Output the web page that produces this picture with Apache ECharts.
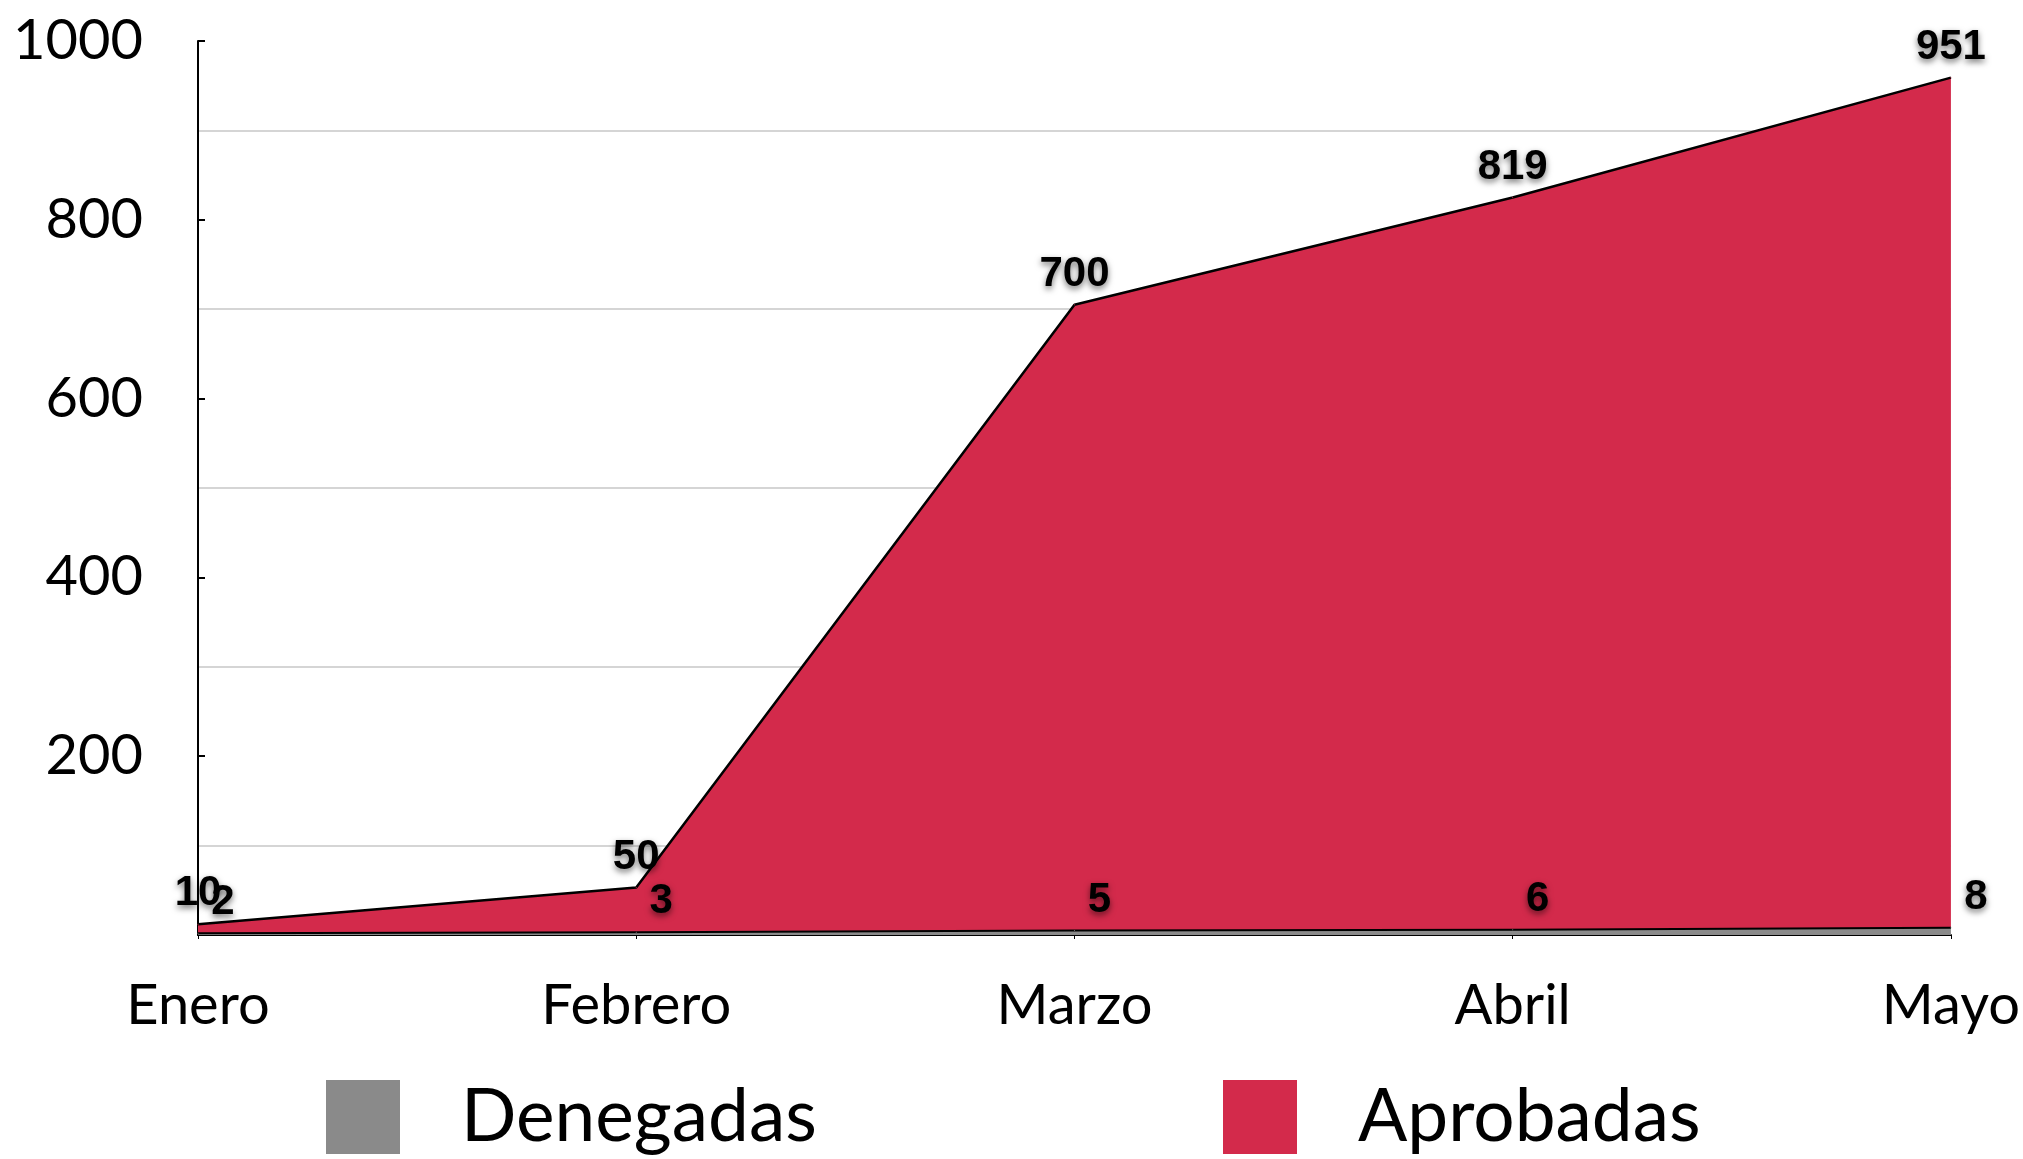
<!DOCTYPE html>
<html>
<head>
<meta charset="utf-8">
<script src="https://cdn.jsdelivr.net/npm/echarts@6/dist/echarts.min.js"></script>
<style>html,body{margin:0;padding:0;background:#fff;}#c{width:2023px;height:1159px;}</style>
</head>
<body>
<div id="c"></div>
<script>
const categories = ['Enero', 'Febrero', 'Marzo', 'Abril', 'Mayo'];
const denegadas = [2, 3, 5, 6, 8];
const aprobadas = [10, 50, 700, 819, 951];
const seriesNames = ['Denegadas', 'Aprobadas'];

const chart = echarts.init(document.getElementById('c'));
const labelFont = {
  show: true, position: 'top', distance: 9,
  fontFamily: 'Liberation Sans, Arial, sans-serif', fontWeight: 'bold', fontSize: 42,
  color: '#000', textShadowColor: 'rgba(0,0,0,0.55)', textShadowBlur: 6, textShadowOffsetY: 3
};
chart.setOption({
  animation: false,
  backgroundColor: '#fff',
  grid: { left: 198, right: 72, top: 41, bottom: 224 },
  legend: [
    { data: [seriesNames[0]], left: 321, top: 1075, itemWidth: 74, itemHeight: 74, icon: 'rect',
      textStyle: { fontFamily: 'Lato', fontSize: 73, color: '#000', padding: [0, 0, 0, 56] } },
    { data: [seriesNames[1]], left: 1218, top: 1075, itemWidth: 74, itemHeight: 74, icon: 'rect',
      textStyle: { fontFamily: 'Lato', fontSize: 73, color: '#000', padding: [0, 0, 0, 56] } }
  ],
  xAxis: {
    type: 'category', data: categories, boundaryGap: false,
    axisLine: { lineStyle: { color: '#000', width: 2 } },
    axisTick: { show: true, length: 4, lineStyle: { color: '#000' } },
    axisLabel: { fontFamily: 'Lato', fontSize: 56, color: '#000', margin: 43 }
  },
  yAxis: {
    type: 'value', min: 0, max: 1000, interval: 200,
    axisLine: { show: true, lineStyle: { color: '#000', width: 2 } },
    axisTick: { show: true, inside: true, length: 7, lineStyle: { color: '#000', width: 2 } },
    splitLine: { show: false },
    minorTick: { show: false, splitNumber: 2 },
    minorSplitLine: { show: true, lineStyle: { color: '#c8c8c8', width: 1.5 } },
    axisLabel: { fontFamily: 'Lato', fontSize: 56, color: '#000', margin: 55,
      formatter: function (v) { return v === 0 ? '' : String(v); } }
  },
  series: [
    {
      name: seriesNames[0], type: 'line', stack: 'total', data: denegadas,
      symbol: 'circle', symbolSize: 1,
      itemStyle: { color: '#8a8a8a' },
      lineStyle: { color: '#000', width: 2 },
      areaStyle: { color: '#8a8a8a', opacity: 1 },
      label: Object.assign({}, labelFont, { offset: [25, 0] }),
      z: 3
    },
    {
      name: seriesNames[1], type: 'line', stack: 'total', data: aprobadas,
      symbol: 'circle', symbolSize: 1,
      itemStyle: { color: '#d32a4b' },
      lineStyle: { color: '#000', width: 2.5 },
      areaStyle: { color: '#d32a4b', opacity: 1 },
      label: Object.assign({}, labelFont),
      z: 2
    }
  ]
});
</script>
</body>
</html>
